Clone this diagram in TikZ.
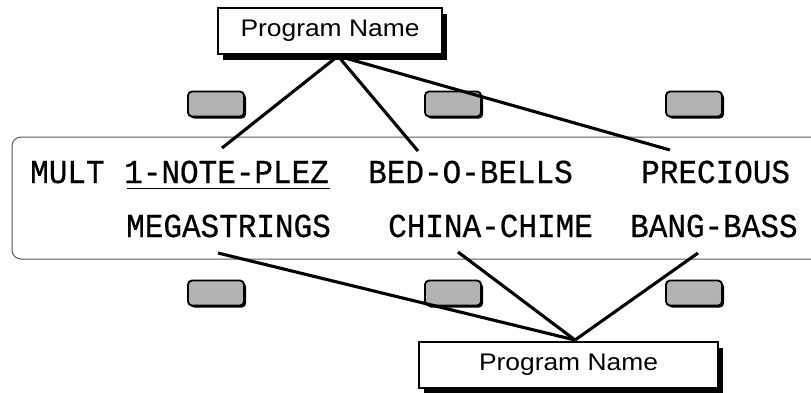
\documentclass[tikz,border=0pt]{standalone}
\usepackage{fontspec}
\setmainfont{Liberation Sans}
\newfontfamily\pnfont[FakeStretch=1.1]{Liberation Sans}
\newfontfamily\lcdfont[FakeBold=0.6]{Liberation Mono}
\usetikzlibrary{shadows}
\begin{document}
\begin{tikzpicture}[x=1pt,y=-1pt,
  namebox/.style={draw=black, line width=1.8pt, fill=white,
    minimum width=224pt, minimum height=46pt, inner sep=0pt,
    font=\pnfont\fontsize{24}{24}\selectfont,
    drop shadow={shadow xshift=5pt, shadow yshift=-6pt, fill=black, opacity=1}},
  btn/.style={draw=black, line width=1.8pt, fill=gray!60, rounded corners=4pt,
    minimum width=56pt, minimum height=25pt, inner sep=0pt,
    drop shadow={shadow xshift=2pt, shadow yshift=-2pt, fill=black, opacity=1}},
  lcd/.style={font=\lcdfont\fontsize{31}{32}\selectfont, inner sep=0pt, anchor=base west, yscale=1.08},
  wire/.style={line width=3.1pt, black},
  panel/.style={draw=black!65, line width=1pt, rounded corners=9pt}]
\useasboundingbox (0,0) rectangle (811,392);
\begin{scope}
\clip (0,0) rectangle (811,392);
% display panel
\draw[panel] (12,137) rectangle (835,259);
% buttons
\node[btn] (bt1) at (216,104) {};
\node[btn] (bt2) at (453,104) {};
\node[btn] (bt3) at (694,104) {};
\node[btn] (bb1) at (216,293) {};
\node[btn] (bb2) at (453,293) {};
\node[btn] (bb3) at (694,293) {};
% words
\node[lcd] (mult) at (30,183) {MULT};
\node[lcd] (w1) at (124,183) {1-NOTE-PLEZ};
\node[lcd] (w2) at (368,183) {BED-O-BELLS};
\node[lcd] (w3) at (641,183) {PRECIOUS};
\node[lcd] (w4) at (126,237) {MEGASTRINGS};
\node[lcd] (w5) at (388,237) {CHINA-CHIME};
\node[lcd] (w6) at (630,237) {BANG-BASS};
\draw[line width=1.8pt] (127,188.5) -- (330,188.5);
% name boxes
\node[namebox] (top) at (330,31) {Program Name};
\node[namebox, minimum width=299pt] (bot) at (568.5,365) {Program Name};
% connector points
\coordinate (tj) at (338,56);
\coordinate (bj) at (575,340);
\coordinate (e1) at (222,148);
\coordinate (e2) at (418,151);
\coordinate (e3) at (670,150);
\coordinate (e4) at (218,253);
\coordinate (e5) at (458,252);
\coordinate (e6) at (698,253);
\draw[wire] (tj) -- (e1);
\draw[wire] (tj) -- (e2);
\draw[wire] (tj) -- (e3);
\draw[wire] (bj) -- (e4);
\draw[wire] (bj) -- (e5);
\draw[wire] (bj) -- (e6);
\end{scope}
\end{tikzpicture}
\end{document}
